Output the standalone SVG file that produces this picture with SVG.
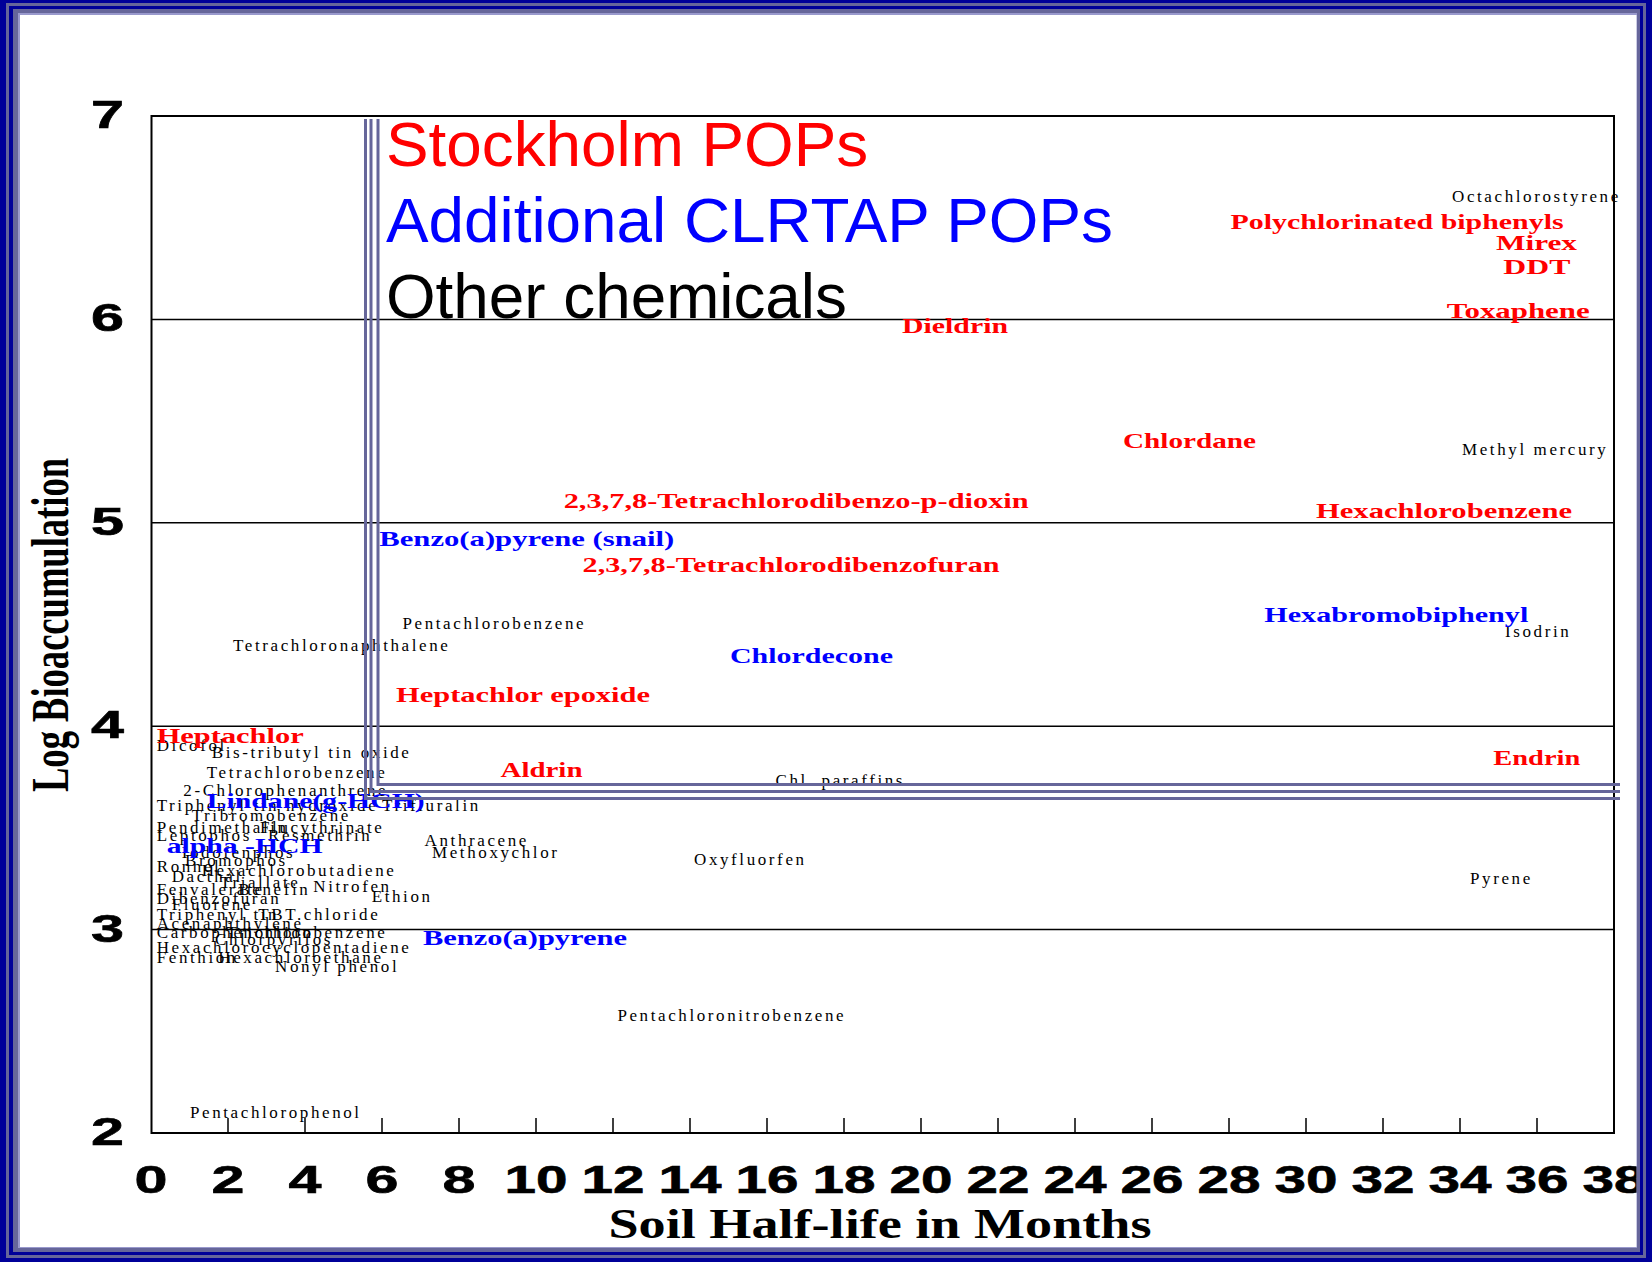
<svg xmlns="http://www.w3.org/2000/svg" width="1652" height="1262" viewBox="0 0 1652 1262">
  <style>
    .k { font-family: "Liberation Serif", "Times New Roman", serif; font-size: 17px; letter-spacing: 2.6px; fill: #000; }
    .r { font-family: "Liberation Serif", "Times New Roman", serif; font-size: 22px; font-weight: bold; fill: #ff0000; }
    .b { font-family: "Liberation Serif", "Times New Roman", serif; font-size: 22px; font-weight: bold; fill: #0000ff; }
    .num { font-family: "Liberation Sans", Arial, sans-serif; font-size: 39px; font-weight: bold; fill: #000; stroke: #000; stroke-width: 0.6; text-anchor: middle; }
    .title { font-family: "Liberation Serif", "Times New Roman", serif; font-weight: bold; fill: #000; text-anchor: middle; }
    .leg { font-family: "Liberation Sans", Arial, sans-serif; font-size: 63.8px; }
    .grid { stroke: #000; stroke-width: 1.5; fill: none; }
    .bracket { stroke: #66669a; stroke-width: 3; fill: none; }
  </style>

  <rect x="0" y="0" width="1652" height="1262" fill="#fff"/>

  <!-- plot area: x 0..38 months -> 151..1614, y 2..7 -> 1133..116 -->
  <g id="grid">
    <path class="grid" d="M151 319.4H1614M151 522.8H1614M151 726.2H1614M151 929.6H1614"/>
    <path class="grid" d="M228 1118V1133M305 1118V1133M382 1118V1133M459 1118V1133M536 1118V1133M613 1118V1133M690 1118V1133M767 1118V1133M844 1118V1133M921 1118V1133M998 1118V1133M1075 1118V1133M1152 1118V1133M1229 1118V1133M1306 1118V1133M1383 1118V1133M1460 1118V1133M1537 1118V1133"/>
    <rect x="151.5" y="116" width="1462.5" height="1017" fill="none" stroke="#000" stroke-width="2"/>
  </g>

  <g id="y-axis">
    <text class="num" x="107.5" y="128" textLength="33" lengthAdjust="spacingAndGlyphs">7</text>
    <text class="num" x="107.5" y="331.4" textLength="33" lengthAdjust="spacingAndGlyphs">6</text>
    <text class="num" x="107.5" y="534.8" textLength="33" lengthAdjust="spacingAndGlyphs">5</text>
    <text class="num" x="107.5" y="738.2" textLength="33" lengthAdjust="spacingAndGlyphs">4</text>
    <text class="num" x="107.5" y="941.6" textLength="33" lengthAdjust="spacingAndGlyphs">3</text>
    <text class="num" x="107.5" y="1145" textLength="33" lengthAdjust="spacingAndGlyphs">2</text>
    <text class="title" font-size="52" transform="translate(68 625) rotate(-90)" textLength="334" lengthAdjust="spacingAndGlyphs">Log Bioaccumulation</text>
  </g>

  <g id="x-axis">
    <text class="num" x="151" y="1193" textLength="33" lengthAdjust="spacingAndGlyphs">0</text>
    <text class="num" x="228" y="1193" textLength="33" lengthAdjust="spacingAndGlyphs">2</text>
    <text class="num" x="305" y="1193" textLength="33" lengthAdjust="spacingAndGlyphs">4</text>
    <text class="num" x="382" y="1193" textLength="33" lengthAdjust="spacingAndGlyphs">6</text>
    <text class="num" x="459" y="1193" textLength="33" lengthAdjust="spacingAndGlyphs">8</text>
    <text class="num" x="536" y="1193" textLength="63" lengthAdjust="spacingAndGlyphs">10</text>
    <text class="num" x="613" y="1193" textLength="63" lengthAdjust="spacingAndGlyphs">12</text>
    <text class="num" x="690" y="1193" textLength="63" lengthAdjust="spacingAndGlyphs">14</text>
    <text class="num" x="767" y="1193" textLength="63" lengthAdjust="spacingAndGlyphs">16</text>
    <text class="num" x="844" y="1193" textLength="63" lengthAdjust="spacingAndGlyphs">18</text>
    <text class="num" x="921" y="1193" textLength="63" lengthAdjust="spacingAndGlyphs">20</text>
    <text class="num" x="998" y="1193" textLength="63" lengthAdjust="spacingAndGlyphs">22</text>
    <text class="num" x="1075" y="1193" textLength="63" lengthAdjust="spacingAndGlyphs">24</text>
    <text class="num" x="1152" y="1193" textLength="63" lengthAdjust="spacingAndGlyphs">26</text>
    <text class="num" x="1229" y="1193" textLength="63" lengthAdjust="spacingAndGlyphs">28</text>
    <text class="num" x="1306" y="1193" textLength="63" lengthAdjust="spacingAndGlyphs">30</text>
    <text class="num" x="1383" y="1193" textLength="63" lengthAdjust="spacingAndGlyphs">32</text>
    <text class="num" x="1460" y="1193" textLength="63" lengthAdjust="spacingAndGlyphs">34</text>
    <text class="num" x="1537" y="1193" textLength="63" lengthAdjust="spacingAndGlyphs">36</text>
    <text class="num" x="1614" y="1193" textLength="63" lengthAdjust="spacingAndGlyphs">38</text>
    <text class="title" font-size="42" x="880" y="1238" textLength="543" lengthAdjust="spacingAndGlyphs">Soil Half-life in Months</text>
  </g>

  <!-- other chemicals -->
  <g id="other-chemicals">
    <text class="k" x="1452" y="201.5">Octachlorostyrene</text>
    <text class="k" x="1462" y="455">Methyl mercury</text>
    <text class="k" x="1505" y="637">Isodrin</text>
    <text class="k" x="402.5" y="629">Pentachlorobenzene</text>
    <text class="k" x="233" y="651">Tetrachloronaphthalene</text>
    <text class="k" x="156.7" y="751">Dicofol</text>
    <text class="k" x="211.7" y="758">Bis-tributyl tin oxide</text>
    <text class="k" x="206.7" y="778">Tetrachlorobenzene</text>
    <text class="k" x="183.3" y="796">2-Chlorophenanthrene</text>
    <text class="k" x="156.7" y="811">Triphenyl tin hydroxide</text>
    <text class="k" x="382" y="811">Trifluralin</text>
    <text class="k" x="191.7" y="821">Tribromobenzene</text>
    <text class="k" x="156.7" y="833">Pendimethalin</text>
    <text class="k" x="260" y="833">Flucythrinate</text>
    <text class="k" x="156.7" y="841">Leptophos</text>
    <text class="k" x="268" y="841">Resmethrin</text>
    <text class="k" x="181.7" y="858">Iodofenphos</text>
    <text class="k" x="185" y="866">Bromophos</text>
    <text class="k" x="156.7" y="872">Ronnel</text>
    <text class="k" x="201.7" y="876">Hexachlorobutadiene</text>
    <text class="k" x="171.7" y="882">Dacthal</text>
    <text class="k" x="220" y="888">Triallate</text>
    <text class="k" x="156.7" y="895">Fenvalerate</text>
    <text class="k" x="238.3" y="895">Benefin</text>
    <text class="k" x="313.3" y="892">Nitrofen</text>
    <text class="k" x="156.7" y="904">Dibenzofuran</text>
    <text class="k" x="371.7" y="902">Ethion</text>
    <text class="k" x="171.7" y="910">Fluorene</text>
    <text class="k" x="156.7" y="920">Triphenyl tin</text>
    <text class="k" x="258.3" y="920">TBT.chloride</text>
    <text class="k" x="156.7" y="929">Acenaphthylene</text>
    <text class="k" x="156.7" y="938">Carbophenothion</text>
    <text class="k" x="226.5" y="938">Trichlorobenzene</text>
    <text class="k" x="215" y="945">Chlorpyrifos</text>
    <text class="k" x="156.7" y="953">Hexachlorocyclopentadiene</text>
    <text class="k" x="156.7" y="963">Fenthion</text>
    <text class="k" x="218.3" y="963">Hexachloroethane</text>
    <text class="k" x="275" y="972">Nonyl phenol</text>
    <text class="k" x="424.6" y="846">Anthracene</text>
    <text class="k" x="432" y="858">Methoxychlor</text>
    <text class="k" x="694" y="865">Oxyfluorfen</text>
    <text class="k" x="775.5" y="786">Chl. paraffins</text>
    <text class="k" x="1470" y="884">Pyrene</text>
    <text class="k" x="617.4" y="1021">Pentachloronitrobenzene</text>
    <text class="k" x="190" y="1118">Pentachlorophenol</text>
  </g>

  <!-- Stockholm POPs -->
  <g id="stockholm-pops">
    <text class="r" x="1230.6" y="229" textLength="333" lengthAdjust="spacingAndGlyphs">Polychlorinated biphenyls</text>
    <text class="r" x="1496" y="250" textLength="81" lengthAdjust="spacingAndGlyphs">Mirex</text>
    <text class="r" x="1503.3" y="274" textLength="67" lengthAdjust="spacingAndGlyphs">DDT</text>
    <text class="r" x="1446.7" y="318" textLength="143" lengthAdjust="spacingAndGlyphs">Toxaphene</text>
    <text class="r" x="902" y="333" textLength="106" lengthAdjust="spacingAndGlyphs">Dieldrin</text>
    <text class="r" x="1123" y="448" textLength="133" lengthAdjust="spacingAndGlyphs">Chlordane</text>
    <text class="r" x="563.7" y="508" textLength="465" lengthAdjust="spacingAndGlyphs">2,3,7,8-Tetrachlorodibenzo-p-dioxin</text>
    <text class="r" x="1316" y="518" textLength="256" lengthAdjust="spacingAndGlyphs">Hexachlorobenzene</text>
    <text class="r" x="582.6" y="572" textLength="417" lengthAdjust="spacingAndGlyphs">2,3,7,8-Tetrachlorodibenzofuran</text>
    <text class="r" x="396" y="702" textLength="254" lengthAdjust="spacingAndGlyphs">Heptachlor epoxide</text>
    <text class="r" x="156.7" y="743" textLength="147" lengthAdjust="spacingAndGlyphs">Heptachlor</text>
    <text class="r" x="500.5" y="777" textLength="82" lengthAdjust="spacingAndGlyphs">Aldrin</text>
    <text class="r" x="1493.3" y="765" textLength="87" lengthAdjust="spacingAndGlyphs">Endrin</text>
  </g>

  <!-- additional CLRTAP POPs -->
  <g id="clrtap-pops">
    <text class="b" x="379.3" y="546" textLength="295" lengthAdjust="spacingAndGlyphs">Benzo(a)pyrene (snail)</text>
    <text class="b" x="1264.3" y="622" textLength="264" lengthAdjust="spacingAndGlyphs">Hexabromobiphenyl</text>
    <text class="b" x="730" y="663" textLength="163" lengthAdjust="spacingAndGlyphs">Chlordecone</text>
    <text class="b" x="206.7" y="808" textLength="218" lengthAdjust="spacingAndGlyphs">Lindane(g-HCH)</text>
    <text class="b" x="166.7" y="853" textLength="156" lengthAdjust="spacingAndGlyphs">alpha -HCH</text>
    <text class="b" x="423" y="945" textLength="204" lengthAdjust="spacingAndGlyphs">Benzo(a)pyrene</text>
  </g>

  <!-- legend -->
  <g id="legend">
    <text class="leg" x="386" y="166" fill="#ff0000">Stockholm POPs</text>
    <text class="leg" x="386" y="242" fill="#0000ff">Additional CLRTAP POPs</text>
    <text class="leg" x="386" y="318" fill="#000">Other chemicals</text>
  </g>

  <!-- triple-line bracket separating the legend corner -->
  <g id="connectors">
    <path class="bracket" d="M365.5 119V798.5H1620"/>
    <path class="bracket" d="M371 119V791.5H1620"/>
    <path class="bracket" d="M378 119V784.5H1620"/>
  </g>

  <!-- slide frame -->
  <g id="frame" fill-rule="evenodd">
    <path fill="#000099" d="M0 0H1652V1262H0Z M6 3H1646V1258H6Z"/>
    <path fill="#66669a" d="M6 3H1646V1258H6Z M9 6H1643V1255H9Z"/>
    <path fill="#000099" d="M9 6H1643V1255H9Z M13 9H1640V1252H13Z"/>
    <path fill="#66669a" d="M13 9H1640V1252H13Z M18 13H1637V1248H18Z"/>
    <path fill="#9999cc" d="M18 13H1637V1248H18Z M20 15H1636.5V1247H20Z"/>
  </g>
</svg>
